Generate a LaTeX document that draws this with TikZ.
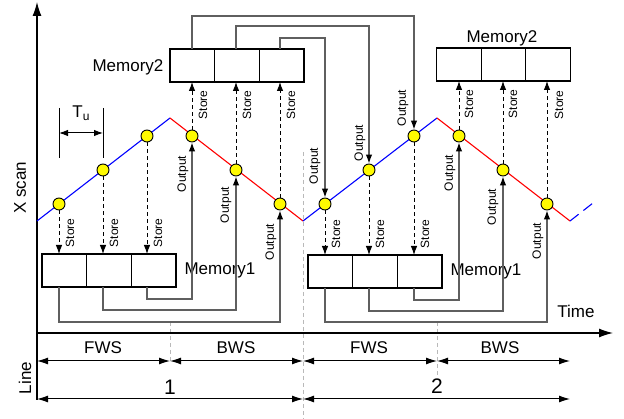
\documentclass[tikz,border=0pt]{standalone}
\usepackage{fontspec}
\setmainfont{Liberation Sans}
\usetikzlibrary{arrows.meta,calc}
\definecolor{conn}{RGB}{95,95,95}
\definecolor{guidecol}{RGB}{185,185,185}
\definecolor{dotyel}{RGB}{255,250,0}
\begin{document}
\begin{tikzpicture}[x=1pt,y=-1pt,
  cell/.style={draw,line width=1.1pt,minimum width=44.67pt,minimum height=33pt,inner sep=0pt,outer sep=0pt},
  dot/.style={circle,draw,line width=0.9pt,fill=dotyel,minimum size=12pt,inner sep=0pt},
  storearr/.style={line width=0.9pt,dash pattern=on 4pt off 3pt,-{Latex[length=9pt,width=6.5pt]}},
  outarr/.style={draw=conn,line width=1.2pt,-{Latex[length=9pt,width=6.5pt,color=black]}},
  lbl/.style={font=\fontsize{12}{12}\selectfont,rotate=90,inner sep=0pt},
  big/.style={font=\fontsize{17}{17}\selectfont,inner sep=0pt},
  guideline/.style={draw=guidecol,dash pattern=on 4pt off 3pt,line width=0.7pt},
  dimarr/.style={line width=1pt,{Latex[length=11pt,width=7pt]}-{Latex[length=11pt,width=7pt]}},
  axisarr/.style={line width=1.2pt,-{Latex[length=14pt,width=9pt]}},
  wave/.style={line width=1.1pt}]
\useasboundingbox (0,0) rectangle (624,419);

% guide lines
\draw[guideline] (170,322) -- (170,362);
\draw[guideline] (303,152) -- (303,419);
\draw[guideline] (437,322) -- (437,375);

% axes
\coordinate (ybot) at (37,400);
\coordinate (ytop) at (37,2);
\coordinate (org) at (37,333);
\coordinate (xend) at (613,333);
\draw[axisarr] (ybot) -- (ytop);
\draw[axisarr] (org) -- (xend);
\node[big,rotate=90] (xscan) at (20,188) {X scan};
\node[big] (time) at (576,311) {Time};
\node[big,rotate=90] (line) at (25,378) {Line};

% dimension arrows
\coordinate (a0) at (37,361);
\coordinate (a1) at (170,361);
\coordinate (a2) at (303,361);
\coordinate (a3) at (437,361);
\coordinate (a4) at (570,361);
\coordinate (b0) at (37,399);
\coordinate (b1) at (303,399);
\coordinate (b2) at (570,399);
\draw[dimarr] (a0) -- (a1);
\draw[dimarr] (a1) -- (a2);
\draw[dimarr] (a2) -- (a3);
\draw[dimarr] (a3) -- (a4);
\draw[dimarr] (b0) -- (b1);
\draw[dimarr] (b1) -- (b2);
\node[big] (fws1) at (103,348) {FWS};
\node[big] (bws1) at (236,348) {BWS};
\node[big] (fws2) at (369,348) {FWS};
\node[big] (bws2) at (500,348) {BWS};
\node[font=\fontsize{21}{21}\selectfont,inner sep=0pt] (one) at (170,387) {1};
\node[font=\fontsize{21}{21}\selectfont,inner sep=0pt] (two) at (437,386) {2};

% waveform
\coordinate (w0) at (37,221);
\coordinate (w1) at (170,118);
\coordinate (w2) at (303,221);
\coordinate (w3) at (437,118);
\coordinate (w4) at (570,221);
\coordinate (w5) at (593,203);
\draw[wave,blue] (w0) -- (w1);
\draw[wave,red] (w1) -- (w2);
\draw[wave,blue] (w2) -- (w3);
\draw[wave,red] (w3) -- (w4);
\draw[wave,blue,dash pattern=on 11pt off 6pt] (w4) -- (w5);

% Tu marker
\coordinate (tua) at (59,108);
\coordinate (tub) at (59,158);
\coordinate (tuc) at (103,108);
\coordinate (tud) at (103,158);
\draw[line width=1pt] (tua) -- (tub);
\draw[line width=1pt] (tuc) -- (tud);
\draw[line width=1pt,{Latex[length=9pt,width=6.5pt]}-{Latex[length=9pt,width=6.5pt]}] (59,133) -- (103,133);
\node[big] (tu) at (81,113) {T\raisebox{-3pt}{\fontsize{12}{12}\selectfont u}};

% sample points
\node[dot] (c1) at (59,204) {};
\node[dot] (c2) at (103,170) {};
\node[dot] (c3) at (147,136) {};
\node[dot] (c4) at (192,136) {};
\node[dot] (c5) at (236,170) {};
\node[dot] (c6) at (280,204) {};
\node[dot] (c7) at (325,204) {};
\node[dot] (c8) at (369,170) {};
\node[dot] (c9) at (414,136) {};
\node[dot] (c10) at (459,136) {};
\node[dot] (c11) at (503,170) {};
\node[dot] (c12) at (547,204) {};

% memories
\node[cell] (m1a) at (64.33,270.5) {};
\node[cell] (m1b) at (109,270.5) {};
\node[cell] (m1c) at (153.67,270.5) {};
\node[big] (mem1l) at (220,270) {Memory1};
\node[cell] (n1a) at (330.33,271.5) {};
\node[cell] (n1b) at (375,271.5) {};
\node[cell] (n1c) at (419.67,271.5) {};
\node[big] (mem1r) at (486,271) {Memory1};
\node[cell] (m2a) at (192.33,65.5) {};
\node[cell] (m2b) at (237,65.5) {};
\node[cell] (m2c) at (281.67,65.5) {};
\node[big] (mem2l) at (128,67) {Memory2};
\node[cell] (n2a) at (459.17,64.5) {};
\node[cell] (n2b) at (503.5,64.5) {};
\node[cell] (n2c) at (547.83,64.5) {};
\node[big] (mem2r) at (502,38) {Memory2};

% store arrows (FWS: down to Memory1)
\draw[storearr] (c1) -- (c1 |- m1a.north);
\draw[storearr] (c2) -- (c2 |- m1b.north);
\draw[storearr] (c3) -- (c3 |- m1c.north);
\draw[storearr] (c7) -- (c7 |- n1a.north);
\draw[storearr] (c8) -- (c8 |- n1b.north);
\draw[storearr] (c9) -- (c9 |- n1c.north);
% store arrows (BWS: up to Memory2)
\draw[storearr] (c4) -- (c4 |- m2a.south);
\draw[storearr] (c5) -- (c5 |- m2b.south);
\draw[storearr] (c6) -- (c6 |- m2c.south);
\draw[storearr] (c10) -- (c10 |- n2a.south);
\draw[storearr] (c11) -- (c11 |- n2b.south);
\draw[storearr] (c12) -- (c12 |- n2c.south);

\node[lbl] (s1) at (70,233) {Store};
\node[lbl] (s2) at (114,233) {Store};
\node[lbl] (s3) at (158,233) {Store};
\node[lbl] (s7) at (336,234) {Store};
\node[lbl] (s8) at (380,234) {Store};
\node[lbl] (s9) at (425,234) {Store};
\node[lbl] (s4) at (203,105) {Store};
\node[lbl] (s5) at (247,105) {Store};
\node[lbl] (s6) at (291,105) {Store};
\node[lbl] (s10) at (469,104) {Store};
\node[lbl] (s11) at (513,104) {Store};
\node[lbl] (s12) at (559,105) {Store};

% output connectors: Memory1 -> BWS points
\draw[outarr] (c3 |- m1c.south) -- ++(0,12) -| (c4);
\draw[outarr] (c2 |- m1b.south) -- ++(0,23) -| (c5);
\draw[outarr] (c1 |- m1a.south) -- ++(0,35) -| (c6);
\draw[outarr] (c9 |- n1c.south) -- ++(0,12) -| (c10);
\draw[outarr] (c8 |- n1b.south) -- ++(0,23) -| (c11);
\draw[outarr] (c7 |- n1a.south) -- ++(0,34) -| (c12);
% output connectors: Memory2 -> FWS points
\draw[outarr] (c4 |- m2a.north) -- ++(0,-33) -| (c9);
\draw[outarr] (c5 |- m2b.north) -- ++(0,-23) -| (c8);
\draw[outarr] (c6 |- m2c.north) -- ++(0,-11) -| (c7);

\node[lbl] (o4) at (183,174) {Output};
\node[lbl] (o5) at (226,205) {Output};
\node[lbl] (o6) at (271,242) {Output};
\node[lbl] (o10) at (450,173) {Output};
\node[lbl] (o11) at (493,207) {Output};
\node[lbl] (o12) at (538,241) {Output};
\node[lbl] (o7) at (315,166) {Output};
\node[lbl] (o8) at (360,143) {Output};
\node[lbl] (o9) at (403,108) {Output};
\end{tikzpicture}
\end{document}
